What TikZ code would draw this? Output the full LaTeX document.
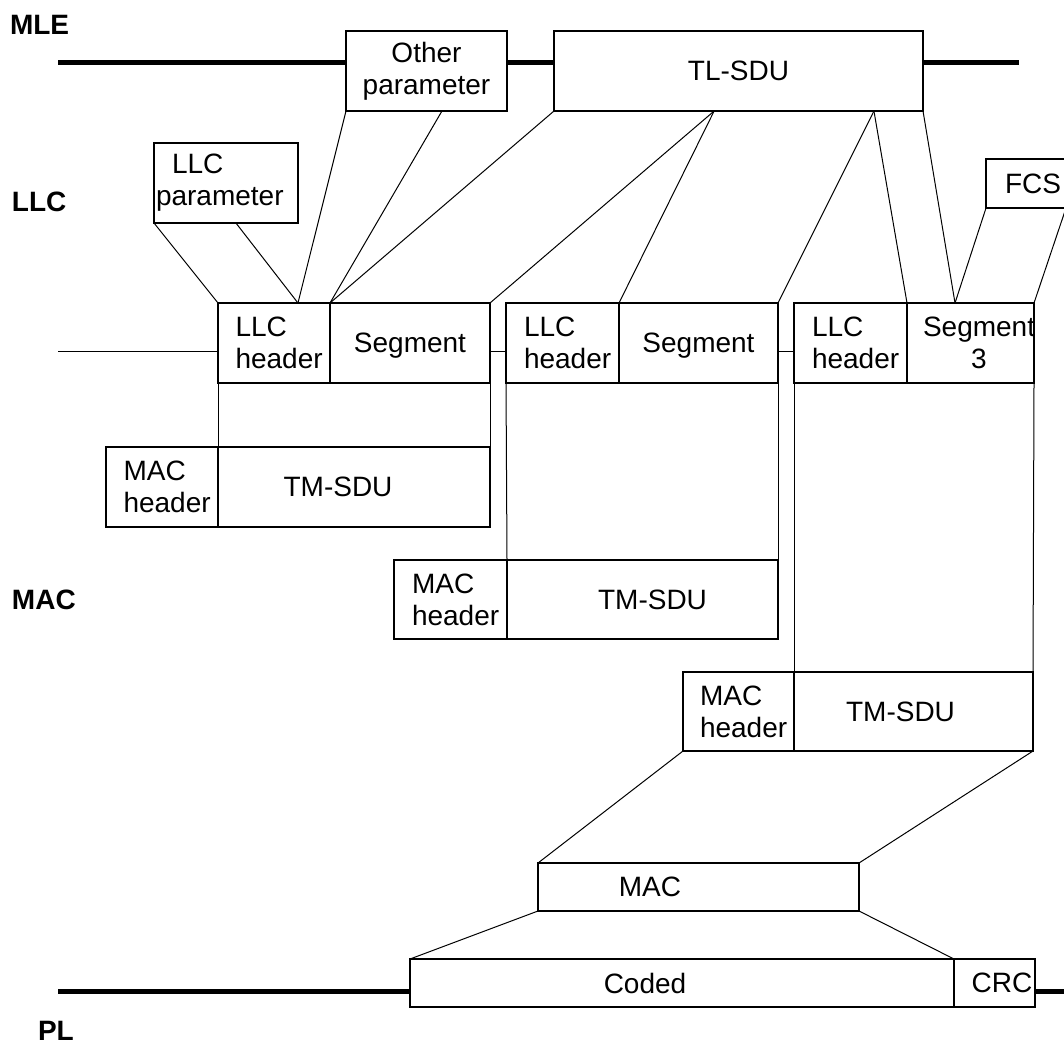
\documentclass[tikz,border=0pt]{standalone}
\usepackage{fontspec}
\setmainfont{Liberation Sans}
\usetikzlibrary{calc}
\begin{document}
\begin{tikzpicture}[x=1pt,y=-1pt,
  every node/.style={font=\fontsize{28}{32}\selectfont, inner sep=0pt, outer sep=0pt},
  cell/.style={draw, line width=2.8pt, anchor=north west},
  wh/.style 2 args={minimum width=#1pt, minimum height=#2pt},
  lefttext/.style={align=left, text width=#1},
  link/.style={line width=1pt},
  bar/.style={line width=5pt},
  layer/.style={font=\fontsize{28}{32}\selectfont\bfseries, anchor=west},
]
\useasboundingbox (0,0) rectangle (1064,1046);
\clip (0,0) rectangle (1064,1046);

% layer names
\node[layer] (mle)  at (10,25)   {MLE};
\node[layer] (llc)  at (12,202)  {LLC};
\node[layer] (macl) at (12,600)  {MAC};
\node[layer] (pl)   at (38,1031) {PL};

% MLE level
\node[cell, wh={161}{80}, align=center] (op) at (346,31) {Other\\parameter};
\node[cell, wh={369}{80}] (tl) at (554,31) {TL-SDU};

% LLC level
\node[cell, wh={144}{80}, lefttext=140pt] (lp) at (154,143) {\hspace*{16pt}LLC\\\mbox{parameter}};
\node[cell, wh={80}{49}, lefttext=42pt] (fcs) at (986,159) {\mbox{FCS}};

\node[cell, wh={112}{80}, lefttext=77pt] (h1) at (218,303) {LLC\\\mbox{header}};
\node[cell, wh={160}{80}, text depth=0pt] (s1) at (330,303) {Segment};
\node[cell, wh={113}{80}, lefttext=77pt] (h2) at (506,303) {LLC\\\mbox{header}};
\node[cell, wh={159}{80}, text depth=0pt] (s2) at (619,303) {Segment};
\node[cell, wh={113}{80}, lefttext=77pt] (h3) at (794,303) {LLC\\\mbox{header}};
\node[cell, wh={127}{80}, lefttext=127pt] (s3) at (907,303) {\hspace*{16pt}\mbox{Segment}\\\hspace*{64pt}3};

% MAC level
\node[cell, wh={112}{80}, lefttext=77pt] (m1h) at (106,447) {MAC\\\mbox{header}};
\node[cell, wh={272}{80}] (m1s) at (218,447) {TM-SDU\hspace*{32pt}};
\node[cell, wh={113}{79}, lefttext=77pt] (m2h) at (394,560) {MAC\\\mbox{header}};
\node[cell, wh={271}{79}] (m2s) at (507,560) {\hspace*{20pt}TM-SDU};
\node[cell, wh={111}{79}, lefttext=77pt] (m3h) at (683,672) {MAC\\\mbox{header}};
\node[cell, wh={239}{79}] (m3s) at (794,672) {TM-SDU\hspace*{26pt}};

% PL level
\node[cell, wh={321}{48}] (mac) at (538,863) {MAC\hspace*{97pt}};
\node[cell, wh={544}{48}] (coded) at (410,959) {Coded\hspace*{74pt}};
\node[cell, wh={81}{48}] (crc) at (954,959) {\hspace*{15pt}CRC};

% free ends and junction points
\coordinate (mleL) at (58,63);
\coordinate (mleR) at (1019,63);
\coordinate (llcL) at (58,351);
\coordinate (plL)  at (58,991);
\coordinate (plR)  at (1064,991);
\coordinate (lpj)  at ($(lp.south west)!0.569!(lp.south east)$);
\coordinate (opj)  at ($(op.south west)!0.596!(op.south east)$);
\coordinate (tlj1) at ($(tl.south west)!0.434!(tl.south east)$);
\coordinate (tlj2) at ($(tl.south west)!0.867!(tl.south east)$);
\coordinate (h1j)  at ($(h1.north west)!0.714!(h1.north east)$);
\coordinate (s3j)  at ($(s3.north west)!0.378!(s3.north east)$);

% layer bars
\draw[bar] (mleL) -- (mleL -| op.west);
\draw[bar] (op.east |- mleL) -- (tl.west |- mleL);
\draw[bar] (tl.east |- mleL) -- (mleR);
\draw[bar] (plL) -- (plL -| coded.west);
\draw[bar] (crc.east |- plL) -- (plR);

% mapping lines MLE -> LLC
\draw[link] (lp.south west) -- (h1.north west);
\draw[link] (lpj) -- (h1j);
\draw[link] (op.south west) -- (h1j);
\draw[link] (opj) -- (h1.north east);
\draw[link] (tl.south west) -- (h1.north east);
\draw[link] (tlj1) -- (s1.north east);
\draw[link] (tlj1) -- (h2.north east);
\draw[link] (tlj2) -- (s2.north east);
\draw[link] (tlj2) -- (h3.north east);
\draw[link] (tl.south east) -- (s3j);
\draw[link] (fcs.south west) -- (s3j);
\draw[link] (fcs.south east) -- (s3.north east);

% chaining of LLC PDUs
\draw[link] (llcL) -- (llcL -| h1.west);
\draw[link] (s1.east |- llcL) -- (h2.west |- llcL);
\draw[link] (s2.east |- llcL) -- (h3.west |- llcL);

% LLC -> MAC
\draw[link] (h1.south west) -- (m1s.north west);
\draw[link] (s1.south east) -- (m1s.north east);
\draw[link] (h2.south west) -- (m2s.north west);
\draw[link] (s2.south east) -- (m2s.north east);
\draw[link] (h3.south west) -- (m3s.north west);
\draw[link] (s3.south east) -- (m3s.north east);

% MAC -> PL
\draw[link] (m3h.south west) -- (mac.north west);
\draw[link] (m3s.south east) -- (mac.north east);
\draw[link] (mac.south west) -- (coded.north west);
\draw[link] (mac.south east) -- (coded.north east);
\end{tikzpicture}
\end{document}
